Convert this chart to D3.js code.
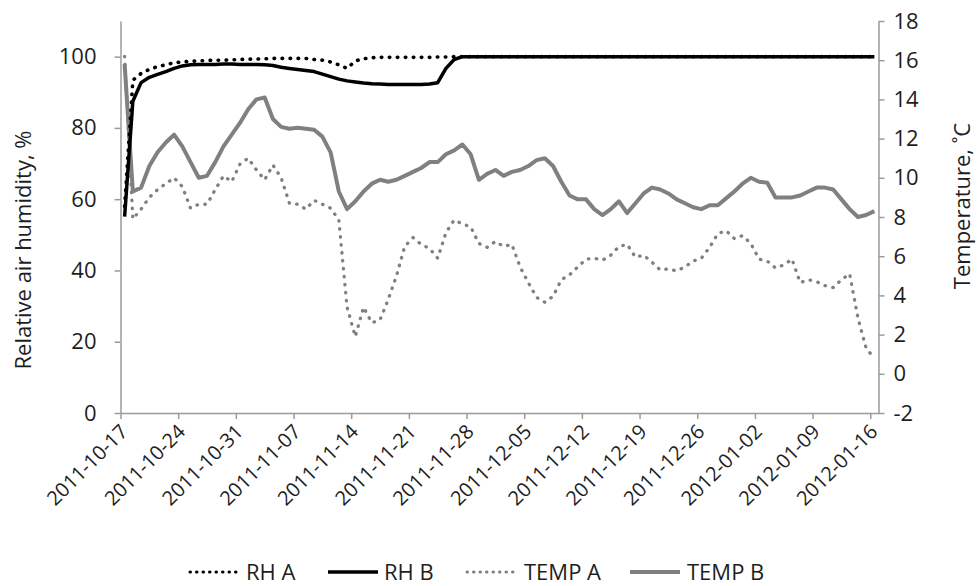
<!DOCTYPE html>
<html>
<head>
<meta charset="utf-8">
<script src="https://cdn.jsdelivr.net/npm/d3@7"></script>
<style>
  body { margin: 0; background: #fff; }
  text { font-family: "Open Sans", sans-serif; fill: #1e1e1e; }
</style>
</head>
<body>
<div id="chart"></div>
<script>
// data: one value per day, starting 2011-10-17
var startDate = '2011-10-17';

var rhA = [58, 93.4, 95.3, 96.4, 97.2, 97.7, 98.3, 98.5, 98.7, 98.8, 98.9, 99.0, 99.0, 99.1, 99.2, 99.3,
	99.3, 99.4, 99.5, 99.5, 99.5, 99.5, 99.5, 99.2, 99.0, 98.5, 97.7, 96.7, 98.8, 99.4, 99.7, 99.8,
	99.8, 99.8, 99.8, 99.8, 99.8, 99.8, 99.9, 99.9, 100, 100, 100, 100, 100, 100, 100, 100,
	100, 100, 100, 100, 100, 100, 100, 100, 100, 100, 100, 100, 100, 100, 100, 100,
	100, 100, 100, 100, 100, 100, 100, 100, 100, 100, 100, 100, 100, 100, 100, 100,
	100, 100, 100, 100, 100, 100, 100, 100, 100, 100, 100, 100];

var rhB = [55.1, 87.5, 92.7, 94.2, 95.0, 95.8, 96.7, 97.4, 97.7, 97.8, 97.8, 97.8, 97.9, 97.9, 97.8, 97.8,
	97.8, 97.7, 97.5, 97.0, 96.7, 96.4, 96.1, 95.8, 95.1, 94.4, 93.7, 93.2, 92.9, 92.6, 92.4, 92.3,
	92.2, 92.2, 92.2, 92.2, 92.2, 92.3, 92.7, 96.7, 99.2, 100, 100, 100, 100, 100, 100, 100,
	100, 100, 100, 100, 100, 100, 100, 100, 100, 100, 100, 100, 100, 100, 100, 100,
	100, 100, 100, 100, 100, 100, 100, 100, 100, 100, 100, 100, 100, 100, 100, 100,
	100, 100, 100, 100, 100, 100, 100, 100, 100, 100, 100, 100];

var tempA = [16.2, 7.9, 8.4, 9.0, 9.4, 9.7, 10.0, 9.55, 8.45, 8.65, 8.65, 9.4, 10.1, 9.8, 10.7, 11.0,
	10.4, 9.9, 10.65, 10.0, 8.7, 8.65, 8.4, 8.85, 8.65, 8.45, 7.85, 3.4, 1.9, 3.4, 2.6, 2.75,
	3.8, 5.0, 6.5, 6.95, 6.6, 6.4, 5.9, 7.2, 7.85, 7.65, 7.5, 6.65, 6.45, 6.75, 6.5, 6.6,
	5.45, 4.65, 3.9, 3.65, 3.95, 4.8, 5.05, 5.45, 5.85, 5.9, 5.8, 6.05, 6.5, 6.6, 5.95, 6.05,
	5.7, 5.3, 5.35, 5.25, 5.45, 5.75, 5.9, 6.45, 7.15, 7.3, 6.9, 7.05, 6.65, 5.85, 5.75, 5.4,
	5.55, 5.85, 4.65, 4.8, 4.7, 4.5, 4.4, 4.8, 5.1, 2.85, 1.3, 0.8];

var tempB = [15.8, 9.3, 9.5, 10.6, 11.3, 11.8, 12.2, 11.6, 10.8, 10.0, 10.1, 10.8, 11.6, 12.2, 12.8, 13.5,
	14.0, 14.1, 13.0, 12.6, 12.5, 12.55, 12.5, 12.45, 12.1, 11.3, 9.3, 8.4, 8.8, 9.3, 9.7, 9.9,
	9.8, 9.9, 10.1, 10.3, 10.5, 10.8, 10.8, 11.2, 11.4, 11.7, 11.2, 9.9, 10.2, 10.4, 10.1, 10.3,
	10.4, 10.6, 10.9, 11.0, 10.6, 9.8, 9.1, 8.9, 8.9, 8.4, 8.1, 8.4, 8.8, 8.2, 8.7, 9.2,
	9.5, 9.4, 9.2, 8.9, 8.7, 8.5, 8.4, 8.6, 8.6, 8.95, 9.3, 9.7, 10.0, 9.8, 9.75, 9.0,
	9.0, 9.0, 9.1, 9.3, 9.5, 9.5, 9.4, 8.9, 8.4, 8.0, 8.1, 8.3];

var dateTicks = ['2011-10-17', '2011-10-24', '2011-10-31', '2011-11-07', '2011-11-14', '2011-11-21', '2011-11-28',
	'2011-12-05', '2011-12-12', '2011-12-19', '2011-12-26', '2012-01-02', '2012-01-09', '2012-01-16'];
var rhTicks = [0, 20, 40, 60, 80, 100];
var tempTicks = [-2, 0, 2, 4, 6, 8, 10, 12, 14, 16, 18];

var seriesNames = ['RH A', 'RH B', 'TEMP A', 'TEMP B'];

// build canvas
var width = 980,
	height = 586;

var svg = d3.select('#chart')
	.append('svg')
	.attr('width', width)
	.attr('height', height);

var parse = d3.utcParse('%Y-%m-%d'),
	fmt = d3.utcFormat('%Y-%m-%d');
var t0 = parse(startDate);

// scales
var x = d3.scaleUtc()
	.domain([t0, d3.utcDay.offset(t0, rhA.length)])
	.range([120.5, 878.5]);
var yL = d3.scaleLinear().domain([0, 110]).range([413, 21]);
var yR = d3.scaleLinear().domain([-2, 18]).range([413, 21]);

// points sit in the middle of each day
var px = (d, i) => x(d3.utcHour.offset(d3.utcDay.offset(t0, i), 12));

var axisColor = '#9b9b9b';
var fontSize = 22;

// axes
var gx = svg.append('g')
	.attr('transform', 'translate(0,413)')
	.call(d3.axisBottom(x)
		.tickValues(dateTicks.map(parse))
		.tickFormat(fmt)
		.tickSize(6)
		.tickSizeOuter(0));

var gl = svg.append('g')
	.attr('transform', 'translate(120.5,0)')
	.call(d3.axisLeft(yL).tickValues(rhTicks).tickSize(6).tickSizeOuter(0).tickPadding(18));

var gr = svg.append('g')
	.attr('transform', 'translate(878.5,0)')
	.call(d3.axisRight(yR).tickValues(tempTicks).tickFormat(d => String(d))
		.tickSize(6).tickSizeOuter(0).tickPadding(9));

[gx, gl, gr].forEach(function(g) {
	g.select('.domain').attr('stroke', axisColor).attr('stroke-width', 1.5);
	g.selectAll('.tick line').attr('stroke', axisColor).attr('stroke-width', 1.5);
	g.selectAll('.tick text')
		.style('font-size', fontSize + 'px')
		.style('font-family', '"Open Sans", sans-serif')
		.attr('fill', '#1e1e1e');
});

// rotated date labels, a touch smaller so they do not crowd
gx.selectAll('.tick text')
	.style('font-size', '20px')
	.attr('text-anchor', 'end')
	.attr('dy', 0)
	.attr('y', 0)
	.attr('transform', 'translate(8,20) rotate(-45)');

// axis titles
svg.append('text')
	.attr('transform', 'translate(31,250) rotate(-90)')
	.attr('text-anchor', 'middle')
	.style('font-size', fontSize + 'px')
	.text('Relative air humidity, %');

svg.append('text')
	.attr('transform', 'translate(970,206) rotate(-90)')
	.attr('text-anchor', 'middle')
	.style('font-size', fontSize + 'px')
	.text('Temperature, ˚C');

// lines
var lineL = d3.line().x(px).y(d => yL(d));
var lineR = d3.line().x(px).y(d => yR(d));

var styles = [
	{ data: rhA, line: lineL, color: '#000', w: 3.6, dash: '0.5 7.5' },
	{ data: rhB, line: lineL, color: '#000', w: 3.5, dash: null },
	{ data: tempA, line: lineR, color: '#808080', w: 3.3, dash: '0.5 7.5' },
	{ data: tempB, line: lineR, color: '#808080', w: 4, dash: null }
];

// draw temperature first so humidity sits on top
[2, 3, 0, 1].forEach(function(k) {
	var s = styles[k];
	svg.append('path')
		.datum(s.data)
		.attr('fill', 'none')
		.attr('stroke', s.color)
		.attr('stroke-width', s.w)
		.attr('stroke-linejoin', 'round')
		.attr('stroke-linecap', s.dash ? 'round' : 'butt')
		.attr('stroke-dasharray', s.dash)
		.attr('d', s.line);
});

// legend
var legendX = [190, 328, 467, 630];
var legend = svg.append('g')
	.selectAll('g')
	.data(seriesNames).enter()
	.append('g')
	.attr('transform', (d, i) => 'translate(' + legendX[i] + ',572)');

legend.append('line')
	.attr('x1', 0).attr('x2', 50)
	.attr('stroke', (d, i) => styles[i].color)
	.attr('stroke-width', (d, i) => styles[i].dash ? 3 : styles[i].w)
	.attr('stroke-linecap', (d, i) => styles[i].dash ? 'round' : 'butt')
	.attr('stroke-dasharray', (d, i) => styles[i].dash ? '0.5 6' : null);

legend.append('text')
	.attr('x', (d, i) => i < 2 ? 56 : 57)
	.attr('y', 8)
	.style('font-size', fontSize + 'px')
	.text(d => d);
</script>
</body>
</html>
